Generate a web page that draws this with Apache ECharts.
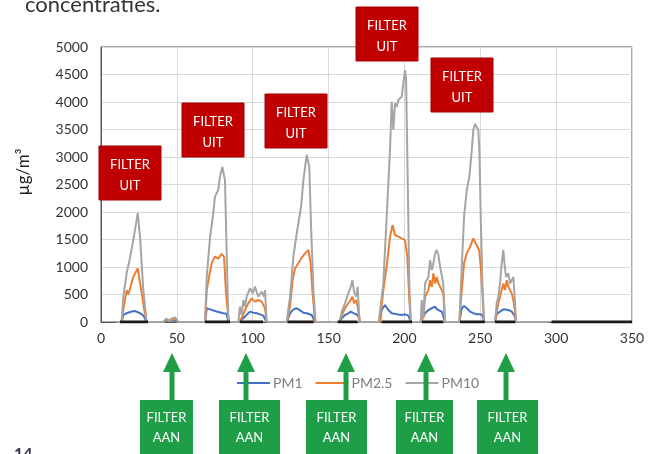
<!DOCTYPE html>
<html><head><meta charset="utf-8">
<script src="https://cdn.jsdelivr.net/npm/echarts@6/dist/echarts.min.js"></script>
<style>html,body{margin:0;padding:0;background:#fff}#c{width:651px;height:454px}</style>
</head><body><div id="c"></div>
<script>
const seriesNames = ['PM1', 'PM2.5', 'PM10'];
const xTicks = [0, 50, 100, 150, 200, 250, 300, 350];
const yTicks = [0, 500, 1000, 1500, 2000, 2500, 3000, 3500, 4000, 4500, 5000];

const pm1 = [[10,0],[13.6,0],[14.7,125],[16.9,160],[20.2,190],[22.4,200],[25.7,160],[27.9,120],[30.1,0],
 [41,0],[43,20],[47,30],[49,25],[51,0],
 [68.6,0],[69.7,250],[71.9,230],[76.2,190],[80.6,160],[82.8,150],[83.9,0],
 [90.5,0],[93.8,67],[96,130],[98.2,188],[100.4,170],[102.6,158],[104.8,139],[107,115],[109.2,0],
 [122.4,0],[124.6,158],[126.8,230],[129,250],[131.2,210],[133.4,170],[135.6,158],[138.9,127],[141.1,0],
 [157.1,0],[158.7,67],[160.8,127],[163,158],[164.6,188],[165.7,210],[166.8,158],[168.1,145],[169.2,127],[170.1,67],[170.7,0],
 [183.9,0],[185,218],[187.2,310],[189.4,218],[191.6,158],[194.9,140],[198.2,127],[200.4,140],[202.6,115],[204.2,0],
 [210.7,0],[213.6,158],[215.8,218],[218,250],[220.2,280],[221.3,235],[222.4,250],[224.6,190],[225.6,158],[226.8,0],
 [236.2,0],[237.8,250],[239.3,290],[241.1,250],[243.3,190],[245.4,160],[247.7,140],[249.9,140],[251.4,127],[252.5,0],
 [259.7,0],[260.8,140],[263,190],[265.2,230],[266.3,260],[268.5,218],[270.7,190],[271.8,160],[272.9,100],[273.6,0],
 [295,0]];

const pm25 = [[10,0],[13.6,0],[14.7,220],[16.9,580],[18,500],[21.3,820],[24.2,975],[26.8,525],[28.5,220],[30.1,0],
 [41,0],[43,40],[45,20],[47,50],[49,50],[51,0],
 [68.6,0],[69.7,580],[71.2,820],[73,1070],[75.1,1190],[77.3,1150],[79.5,1240],[81.1,1190],[82.4,520],[83.9,100],[84.5,0],
 [90.5,0],[92.7,70],[94.9,218],[97.1,339],[99.3,430],[101.5,370],[103.7,400],[105.9,370],[108.1,248],[109.2,0],
 [122.4,0],[124.6,280],[126.3,760],[127.9,975],[130.1,1067],[131.9,1157],[134.5,1248],[136.7,1310],[138.2,1067],[139.3,580],[141.1,0],
 [157.1,0],[158.7,127],[160.8,250],[163,340],[164.6,400],[165.7,460],[166.8,340],[168.1,400],[169.2,280],[170.1,100],[170.7,0],
 [183.9,0],[186.1,580],[188.3,1006],[190.5,1552],[192.2,1764],[193.8,1582],[196,1552],[198.2,1520],[200.4,1490],[201.9,1188],[203.2,400],[204.2,0],
 [210.7,0],[212.5,100],[213.6,460],[215.8,580],[216.9,760],[218,640],[219.1,885],[220.2,700],[221.3,820],[222.4,700],[223.5,640],[224.6,670],[225.6,520],[226.8,0],
 [236.2,0],[237.8,580],[239.3,1067],[241.1,1248],[243.3,1370],[245.4,1520],[246.5,1460],[247.7,1430],[249.2,1310],[250.3,1006],[251.4,520],[252.5,0],
 [259.7,0],[260.8,180],[261.9,340],[263,460],[264.1,580],[265.2,700],[266.3,580],[267.4,760],[268.5,640],[269.6,580],[270.7,520],[271.8,400],[272.9,180],[273.6,0],
 [295,0]];

const pm10 = [[10,0],[13.6,0],[14.7,460],[17,900],[19,1150],[21.3,1490],[24.2,1980],[25.7,1550],[27.9,580],[30.1,0],
 [41,0],[43,60],[45,30],[47,70],[49,80],[51,0],
 [68.6,0],[69.7,820],[71.9,1550],[74,1980],[75.1,2280],[77.3,2400],[78.4,2640],[80,2820],[81.7,2580],[82.8,1310],[83.9,100],[84.5,0],
 [90.5,0],[91.6,280],[92.7,130],[93.8,400],[94.9,280],[96,460],[98.2,612],[100,521],[101.5,642],[103.7,460],[105.9,552],[107.4,460],[108.1,580],[109.2,0],
 [122.4,0],[124.6,460],[126.8,1190],[129,1610],[131.2,1980],[131.9,2100],[133.4,2580],[135.6,3040],[137.3,2820],[138.4,1790],[140,580],[141.5,0],
 [157.1,0],[158.7,188],[160.8,340],[163,520],[164.6,640],[165.7,760],[166.8,550],[168.1,460],[169.2,640],[170.1,150],[170.7,0],
 [183,0],[183.9,36],[186.1,700],[188.3,1915],[190.5,3130],[191.6,4005],[192.7,3490],[193.8,3975],[194.9,3915],[196,4036],[197.1,4005],[198.2,4097],[199.3,4340],[200.4,4580],[201.1,4400],[202.2,2520],[203.2,700],[204.2,0],
 [210.7,0],[211.4,400],[212.5,60],[213.6,700],[215.8,820],[216.9,1127],[218,945],[219.1,1067],[220.2,1248],[221.3,1310],[222.4,1218],[223.5,1006],[224.6,1006],[225.6,700],[226.8,0],
 [236.2,0],[237.8,1006],[239.3,1915],[241.1,2400],[242.8,2640],[244.4,3127],[245.4,3490],[246.5,3600],[247.7,3610],[248.7,3490],[249.4,3127],[250.3,1915],[251.4,700],[252.5,0],
 [259.7,0],[260.8,340],[261.9,460],[263,700],[264.1,1067],[265.2,1310],[265.9,1067],[267,820],[268.5,885],[269.6,700],[270.7,760],[271.8,820],[272.9,340],[273.6,0],
 [295,0]];

// periods drawn as thick black segments on the baseline
const filterPeriods = [[12.5,31],[68.5,85],[91.6,106.8],[123,140],[156,169],[185,205],[211.6,225.4],[236.7,253],[259.7,273],[297,350]];

const labelFilterUit = 'FILTER\nUIT';
const labelFilterAan = 'FILTER\nAAN';

const filterData = [];
filterPeriods.forEach(p => { filterData.push([p[0],0],[p[1],0],[p[1],null]); });

const FONT = 'Lato, "Open Sans", sans-serif';
const chart = echarts.init(document.getElementById('c'), null, {renderer:'canvas'});

const RED = '#C00000', GREEN = '#1E9E47';
const graphics = [];
// red "FILTER UIT" boxes [left, top]
const redBoxes = [[99,146],[182,103],[265,94],[356,7],[431,58]];
redBoxes.forEach(b => {
  graphics.push({type:'rect', shape:{x:b[0], y:b[1], width:62, height:54}, style:{fill:RED, stroke:'#A00000', lineWidth:1}, z:50});
  graphics.push({type:'text', style:{x:b[0]+31, y:b[1]+8, text:labelFilterUit, align:'center', fill:'#fff', font:'13px '+FONT, lineHeight:21}, z:51});
});
// green arrows [arrowX, boxLeft, boxWidth]
const greenItems = [[172,140,53],[246,219,61],[346,306,61],[426,396,57],[506,477,61]];
greenItems.forEach(g => {
  const cx = g[0];
  graphics.push({type:'rect', shape:{x:cx-2.5, y:370, width:5, height:32}, style:{fill:GREEN}, z:50});
  graphics.push({type:'polygon', shape:{points:[[cx,353],[cx-9,372],[cx+9,372]]}, style:{fill:GREEN}, z:50});
  graphics.push({type:'rect', shape:{x:g[1], y:400, width:g[2], height:60}, style:{fill:GREEN}, z:50});
  graphics.push({type:'text', style:{x:g[1]+g[2]/2, y:408, text:labelFilterAan, align:'center', fill:'#fff', font:'13px '+FONT, lineHeight:20}, z:51});
});
graphics.push({type:'text', style:{x:25, y:-6, text:'concentraties.', fill:'#333', font:'22px '+FONT}, z:10});
graphics.push({type:'text', style:{x:14, y:446, text:'14', fill:'#333355', font:'bold 16px '+FONT}, z:10});
graphics.push({type:'text', rotation:Math.PI/2, style:{x:0, y:0, text:'µg/m³', fill:'#222', font:'17px '+FONT, align:'center', verticalAlign:'middle'}, x:24, y:172, z:10});

const colors = ['#4472C4', '#ED7D31', '#A5A5A5'];
const seriesData = [pm1, pm25, pm10];

chart.setOption({
  animation:false,
  grid:{left:101, right:19, top:47, bottom:132, show:true, borderColor:'#595959', borderWidth:1},
  legend:{data:seriesNames, left:232, top:371, icon:'rect', itemWidth:33, itemHeight:2, itemGap:13,
    textStyle:{color:'#7F7F7F', fontSize:14, fontFamily:FONT, padding:[0,0,0,-2]}},
  xAxis:{type:'value', min:xTicks[0], max:xTicks[xTicks.length-1], interval:50,
    axisLine:{show:true, lineStyle:{color:'#595959'}}, axisTick:{show:false},
    axisLabel:{color:'#333', fontSize:14, fontFamily:FONT, margin:9},
    splitLine:{show:true, lineStyle:{color:'#D9D9D9'}}},
  yAxis:{type:'value', min:yTicks[0], max:yTicks[yTicks.length-1], interval:500,
    axisLine:{show:true, lineStyle:{color:'#595959'}}, axisTick:{show:false},
    axisLabel:{color:'#333', fontSize:14, fontFamily:FONT, margin:13, formatter: v => String(v)},
    splitLine:{show:true, lineStyle:{color:'#D9D9D9'}}},
  series: seriesNames.map((n,i) => ({
    name:n, type:'line', data:seriesData[i], symbol:'none', color:colors[i],
    lineStyle:{width:2, color:colors[i]}, z:2+i
  })).concat([{
    name:'filter', type:'line', data:filterData, symbol:'none', connectNulls:false,
    lineStyle:{width:3, color:'#1a1a1a'}, z:10, silent:true
  }]),
  graphic:graphics
});
</script></body></html>
